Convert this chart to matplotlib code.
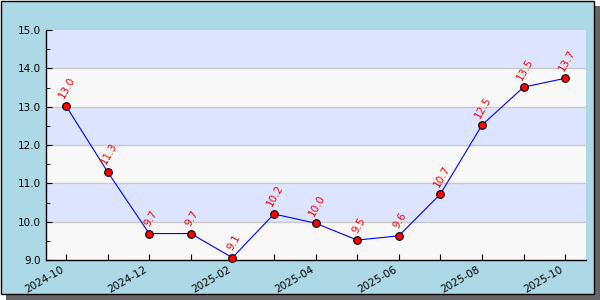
import numpy as np
import matplotlib.pyplot as plt
from matplotlib.patches import Rectangle

months = ['2024-10', '2024-11', '2024-12', '2025-01', '2025-02', '2025-03', '2025-04',
          '2025-05', '2025-06', '2025-07', '2025-08', '2025-09', '2025-10']
values = [13.02, 11.30, 9.69, 9.69, 9.06, 10.20, 9.96, 9.52, 9.63, 10.72, 12.52, 13.51, 13.74]
y_ticks = [9.0, 10.0, 11.0, 12.0, 13.0, 14.0, 15.0]

fig = plt.figure(figsize=(6, 3), dpi=100)
fig.patch.set_facecolor('white')

# shadow + framed background
fig.patches.append(Rectangle((6 / 600, 0), 594 / 600, 294 / 300, transform=fig.transFigure,
                             facecolor='#666666', edgecolor='none', zorder=-2))
fig.patches.append(Rectangle((0.5 / 600, 6 / 300), 593 / 600, 293.5 / 300, transform=fig.transFigure,
                             facecolor='#ADD8E6', edgecolor='black', linewidth=1, zorder=-1))

ax = fig.add_axes([46 / 600, 40 / 300, 540 / 600, 230 / 300])
ax.set_facecolor('#F8F8F8')

x = np.arange(len(months))
ax.set_xlim(-0.48, len(months) - 1 + 0.5)
ax.set_ylim(9, 15)

# alternating bands
for i, lo in enumerate(y_ticks[:-1]):
    col = '#F8F8F8' if i % 2 == 0 else '#DDE4FF'
    ax.axhspan(lo, lo + 1, color=col, zorder=0, linewidth=0)
for yv in y_ticks[1:-1]:
    ax.axhline(yv, color='#C8C8C8', linewidth=1, zorder=1)

ax.plot(x, values, color='blue', linewidth=0.8, zorder=3)
ax.plot(x, values, 'o', color='red', markeredgecolor='black', markersize=5.5,
        markeredgewidth=0.8, zorder=4, clip_on=False)

for xi, v in zip(x, values):
    ax.annotate(f'{v:.1f}', (xi, v), xytext=(1, 4), textcoords='offset points',
                rotation=60, ha='center', va='bottom', color='red', fontsize=7.5, zorder=5)

ax.set_xticks(x)
ax.set_xticklabels([m if i % 2 == 0 else '' for i, m in enumerate(months)],
                   rotation=30, ha='right', fontsize=7.5)
ax.set_yticks(y_ticks)
ax.set_yticks(np.arange(9.5, 15, 1.0), minor=True)
ax.set_yticklabels([f'{t:.1f}' for t in y_ticks], fontsize=7.5)
ax.tick_params(axis='both', direction='in', length=4, colors='black')
ax.tick_params(axis='y', which='minor', direction='in', length=3)
ax.tick_params(axis='x', pad=3)

for s in ['top', 'right']:
    ax.spines[s].set_visible(False)
ax.spines['left'].set_linewidth(1)
ax.spines['bottom'].set_linewidth(1)

fig.savefig('out.png', dpi=100)
